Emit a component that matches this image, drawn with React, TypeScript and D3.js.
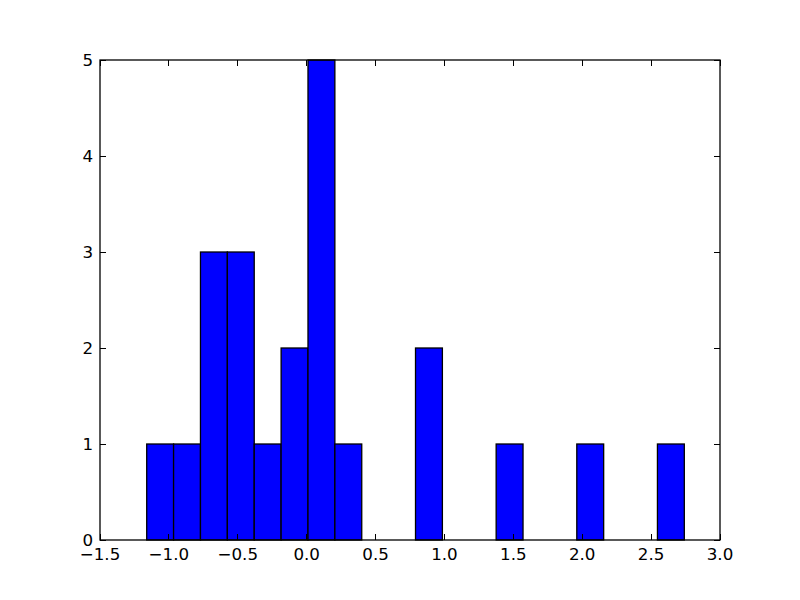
import { useEffect, useRef } from 'react';
import * as d3 from 'd3';

// histogram: 20 equal bins between the sample min and max
const binMin = -1.161;
const binMax = 2.741;
const binCounts = [1, 1, 3, 3, 1, 2, 5, 1, 0, 0, 2, 0, 0, 1, 0, 0, 1, 0, 0, 1];
const xTicks = [-1.5, -1.0, -0.5, 0.0, 0.5, 1.0, 1.5, 2.0, 2.5, 3.0];
const yTicks = [0, 1, 2, 3, 4, 5];

export default function App() {
  const svgRef = useRef<SVGSVGElement>(null);

  useEffect(() => {
    if (!svgRef.current) return;
    const svg = d3.select(svgRef.current);
    svg.selectAll('*').remove();

    const margin = { top: 60, right: 80, bottom: 60, left: 100 };
    const width = 800;
    const height = 600;

    const x = d3.scaleLinear().domain([-1.5, 3.0]).range([margin.left, width - margin.right]);
    const y = d3.scaleLinear().domain([0, 5]).range([height - margin.bottom, margin.top]);

    const binWidth = (binMax - binMin) / binCounts.length;
    const bins = binCounts.map((c, i) => ({
      x0: binMin + i * binWidth,
      x1: binMin + (i + 1) * binWidth,
      count: c,
    }));

    const font = '"DejaVu Sans", sans-serif';
    const tickLen = 6;

    // bars
    svg
      .append('g')
      .selectAll('rect')
      .data(bins.filter((b) => b.count > 0))
      .enter()
      .append('rect')
      .attr('x', (d) => x(d.x0))
      .attr('y', (d) => y(d.count))
      .attr('width', (d) => x(d.x1) - x(d.x0))
      .attr('height', (d) => y(0) - y(d.count))
      .attr('fill', '#0000ff')
      .attr('stroke', '#000')
      .attr('stroke-width', 1.3);

    const [x0, x1] = x.range();
    const [y0, y1] = y.range();

    // ticks on all four sides, pointing inward
    const ticks = svg
      .append('g')
      .attr('stroke', '#000')
      .attr('stroke-width', 1)
      .attr('shape-rendering', 'crispEdges');
    xTicks.forEach((t) => {
      ticks.append('line').attr('x1', x(t)).attr('x2', x(t)).attr('y1', y0).attr('y2', y0 - tickLen);
      ticks.append('line').attr('x1', x(t)).attr('x2', x(t)).attr('y1', y1).attr('y2', y1 + tickLen);
    });
    yTicks.forEach((t) => {
      ticks.append('line').attr('x1', x0).attr('x2', x0 + tickLen).attr('y1', y(t)).attr('y2', y(t));
      ticks.append('line').attr('x1', x1).attr('x2', x1 - tickLen).attr('y1', y(t)).attr('y2', y(t));
    });

    // frame
    svg
      .append('rect')
      .attr('x', x0)
      .attr('y', y1)
      .attr('width', x1 - x0)
      .attr('height', y0 - y1)
      .attr('fill', 'none')
      .attr('stroke', '#000')
      .attr('stroke-width', 1.3);

    // tick labels
    svg
      .append('g')
      .selectAll('text')
      .data(xTicks)
      .enter()
      .append('text')
      .attr('x', (d) => x(d))
      .attr('y', y0 + 7)
      .attr('dy', '0.76em')
      .attr('text-anchor', 'middle')
      .attr('font-family', font)
      .attr('font-size', 16.7)
      .text((d) => d3.format('.1f')(d).replace('-', '\u2212'));

    svg
      .append('g')
      .selectAll('text')
      .data(yTicks)
      .enter()
      .append('text')
      .attr('x', x0 - 7)
      .attr('y', (d) => y(d))
      .attr('dy', '0.36em')
      .attr('text-anchor', 'end')
      .attr('font-family', font)
      .attr('font-size', 16.7)
      .text((d) => String(d));
  }, []);

  return (
    <svg
      ref={svgRef}
      width={800}
      height={600}
      style={{ position: 'absolute', left: 0, top: 0, background: '#fff' }}
    />
  );
}
